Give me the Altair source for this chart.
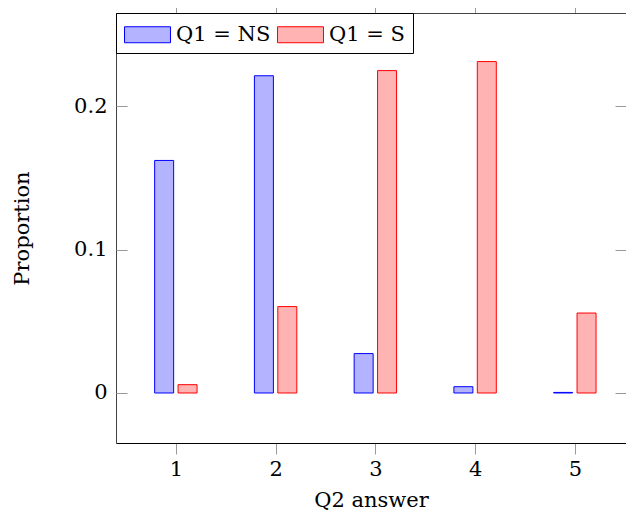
import altair as alt
import pandas as pd

answers = [1, 2, 3, 4, 5]
ns_values = [0.1623, 0.2214, 0.0275, 0.0044, 0.0004]
s_values = [0.0058, 0.0603, 0.2250, 0.2313, 0.0558]
series_names = ["Q1 = NS", "Q1 = S"]
fill_colors = ["#b3b3ff", "#ffb3b3"]
stroke_colors = ["#0000ff", "#ff0000"]
y_ticks = [0, 0.1, 0.2]

rows = []
for a, v in zip(answers, ns_values):
    rows.append({"answer": a, "value": v, "series": series_names[0]})
for a, v in zip(answers, s_values):
    rows.append({"answer": a, "value": v, "series": series_names[1]})
df = pd.DataFrame(rows)

W, H = 510, 430
FONT = "DejaVu Serif"
FS = 21
XDOM = [0.4, 0.4 + W / 99.75]
YDOM = [-0.0349, 0.2652]

xscale = alt.Scale(domain=XDOM, nice=False, zero=False, padding=0)
yscale = alt.Scale(domain=YDOM, nice=False, zero=False, padding=0)

legend = alt.Legend(
    orient="none", legendX=0, legendY=0, direction="horizontal", title=None,
    symbolType="M-1.769,-0.615H1.769V0.615H-1.769Z", symbolSize=676, symbolOffset=10,
    symbolStrokeWidth=1, labelFont=FONT, labelFontSize=FS, labelColor="black",
    labelOffset=15, labelLimit=300, padding=8, strokeColor="black", fillColor="white",
    columnPadding=4, cornerRadius=0,
)

color_fill = alt.Fill("series:N", scale=alt.Scale(domain=series_names, range=fill_colors), legend=legend)
color_stroke = alt.Stroke("series:N", scale=alt.Scale(domain=series_names, range=stroke_colors), legend=legend)

x_main = alt.X("answer:Q", scale=xscale, title="Q2 answer",
               axis=alt.Axis(values=answers, format="d", domain=True, domainColor="black",
                             domainWidth=1, grid=False, ticks=True,
                             tickSize=11, tickColor="#999", labelFont=FONT, labelFontSize=FS,
                             labelColor="black", labelPadding=4, titleFont=FONT, titleFontSize=FS,
                             titleFontWeight="normal", titleColor="black", titlePadding=10))
y_main = alt.Y("value:Q", scale=yscale, title="Proportion",
               axis=alt.Axis(values=y_ticks, format="~g", domain=True, domainColor="#444",
                             domainWidth=1, grid=False, ticks=False,
                             labelFont=FONT, labelFontSize=FS, labelColor="black", labelPadding=9,
                             titleFont=FONT, titleFontSize=FS, titleFontWeight="normal",
                             titleColor="black", titlePadding=41))

base = alt.Chart(df)

bars_ns = base.transform_filter(alt.datum.series == series_names[0]).mark_bar(
    width=19, xOffset=-11.7, strokeWidth=1).encode(
    x=x_main, y=y_main, fill=color_fill, stroke=color_stroke)

bars_s = base.transform_filter(alt.datum.series == series_names[1]).mark_bar(
    width=19, xOffset=11.7, strokeWidth=1).encode(
    x=alt.X("answer:Q", scale=xscale, axis=None),
    y=alt.Y("value:Q", scale=yscale, axis=None),
    fill=color_fill, stroke=color_stroke)

tick_axis = dict(grid=False, labels=False, ticks=True, tickSize=11,
                 tickColor="#999", title=None)

ticks_a = base.mark_point(opacity=0).encode(
    x=alt.X("answer:Q", scale=xscale,
            axis=alt.Axis(orient="top", values=answers, domain=True, domainColor="#444", **tick_axis)),
    y=alt.Y("value:Q", scale=yscale,
            axis=alt.Axis(orient="right", offset=-W, values=y_ticks, domain=False, **tick_axis)),
)
ticks_b = base.mark_point(opacity=0).encode(
    x=alt.X("answer:Q", scale=xscale, axis=None),
    y=alt.Y("value:Q", scale=yscale,
            axis=alt.Axis(orient="left", offset=-W, values=y_ticks, domain=False, **tick_axis)),
)

chart = alt.layer(bars_ns, bars_s, ticks_a, ticks_b).resolve_axis(
    x="independent", y="independent"
).properties(
    width=W, height=H,
    autosize=alt.AutoSizeParams(type="none"),
    padding={"left": 108, "top": 5, "right": 0, "bottom": 71},
).configure_view(stroke=None).configure(background="white")

chart.save("out.html", embed_options={"renderer": "svg", "actions": False})
